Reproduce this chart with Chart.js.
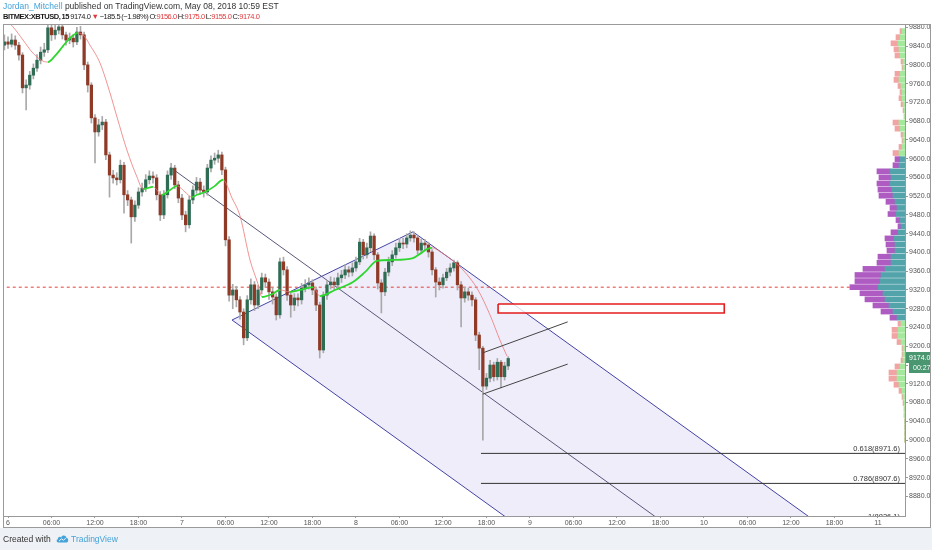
<!DOCTYPE html>
<html>
<head>
<meta charset="utf-8">
<script src="https://cdn.jsdelivr.net/npm/chart.js@4.4.1/dist/chart.umd.min.js"></script>
<style>
html, body { margin: 0; padding: 0; background: #eef1f5; }
#wrap { position: relative; width: 932px; height: 550px; overflow: hidden; }
#sheet { position: absolute; left: 0; top: 0; width: 932px; height: 528px; background: #fff; }
canvas { position: absolute; left: 0; top: 0; }
.txt { position: absolute; left: 3px; white-space: nowrap; font-family: "Liberation Sans", Arial, sans-serif; color: #333; }
#h1 { top: 1px; font-size: 8.5px; }
#h2 { top: 12px; font-size: 7.5px; letter-spacing: -0.45px; word-spacing: -0.5px; color: #1a1a1a; }
#foot { top: 534px; font-size: 8.5px; color: #333; }
.red { color: #e0393c; }
.blue { color: #45a3d9; }
</style>
</head>
<body>
<div id="wrap">
  <div id="sheet"></div>
  <canvas id="chart" width="932" height="550"></canvas>
  <div class="txt" id="h1"><span class="blue">Jordan_Mitchell</span> published on TradingView.com, May 08, 2018 10:59 EST</div>
  <div class="txt" id="h2"><b>BITMEX:XBTUSD, 15</b> 9174.0 <span class="red">▼</span> −185.5 (−1.98%) O:<span class="red">9156.0</span> H:<span class="red">9175.0</span> L:<span class="red">9155.0</span> C:<span class="red">9174.0</span></div>
  <div class="txt" id="foot">Created with <svg width="13" height="9" viewBox="0 0 13 9" style="vertical-align:-1px;margin:0 2px 0 3px"><path d="M2.5 8.5 C0.5 8.5 0 6 1.8 5.3 C1.6 3 4 2.2 5.2 3.4 C6 0.6 10 0.8 10.4 3.8 C12.6 4 13 8.5 10.5 8.5 Z" fill="#45a3d9"/><path d="M3 7 L5.5 4.8 L7.5 6.3 L10 3.8" stroke="#fff" stroke-width="0.9" fill="none"/></svg><span class="blue">TradingView</span></div>
</div>
<script>
// 30 min bars, hours counted from May 6 00:00
const firstDay = 6;
const startHour = -0.5;
const barHours = 0.5;

const opens = [9842,9849,9844,9853,9842,9821,9751,9757,9778,9793,
  9810,9827,9832,9879,9864,9874,9881,9864,9853,9857,
  9849,9870,9864,9800,9757,9687,9657,9672,9678,9608,
  9565,9559,9555,9586,9523,9512,9476,9501,9529,9537,
  9555,9563,9559,9523,9480,9523,9565,9580,9544,9516,
  9480,9459,9512,9533,9550,9533,9529,9580,9597,9601,
  9608,9576,9427,9309,9320,9299,9273,9218,9299,9331,
  9288,9320,9346,9337,9316,9305,9267,9380,9363,9309,
  9288,9303,9299,9324,9331,9335,9320,9288,9192,9309,
  9331,9337,9331,9346,9352,9363,9358,9367,9380,9422,
  9395,9410,9435,9395,9335,9316,9358,9380,9395,9410,
  9420,9418,9431,9437,9431,9405,9420,9416,9401,9363,
  9337,9331,9346,9358,9367,9378,9331,9303,9316,9309,
  9299,9224,9196,9115,9132,9160,9135,9166,9135,9158];
const highs = [9864,9860,9866,9862,9848,9826,9768,9786,9802,9822,
  9838,9846,9896,9890,9888,9896,9890,9870,9868,9864,
  9880,9882,9870,9806,9762,9694,9684,9690,9684,9614,
  9575,9570,9597,9592,9532,9518,9510,9538,9548,9566,
  9574,9572,9566,9530,9532,9574,9590,9586,9552,9524,
  9488,9520,9542,9560,9558,9542,9588,9606,9612,9618,
  9614,9582,9434,9332,9328,9306,9280,9308,9344,9338,
  9330,9356,9354,9344,9324,9312,9388,9390,9370,9316,
  9312,9312,9334,9342,9346,9342,9326,9294,9316,9340,
  9348,9346,9356,9362,9374,9370,9378,9390,9430,9428,
  9420,9444,9440,9400,9342,9366,9390,9404,9420,9430,
  9430,9440,9446,9444,9436,9428,9428,9422,9406,9368,
  9346,9354,9366,9376,9384,9382,9338,9326,9324,9316,
  9304,9230,9200,9142,9170,9166,9174,9170,9166,9178];
const lows = [9832,9835,9838,9833,9810,9740,9704,9748,9770,9786,
  9802,9818,9826,9852,9855,9866,9855,9842,9845,9838,
  9843,9855,9790,9742,9676,9591,9648,9662,9598,9518,
  9548,9544,9548,9484,9500,9420,9466,9494,9520,9530,
  9546,9548,9512,9468,9472,9516,9556,9536,9506,9470,
  9444,9452,9504,9526,9524,9518,9522,9572,9588,9592,
  9566,9414,9296,9280,9284,9258,9203,9212,9290,9276,
  9280,9312,9326,9300,9290,9256,9260,9352,9298,9262,
  9276,9286,9290,9316,9322,9310,9276,9175,9186,9300,
  9322,9320,9324,9336,9344,9348,9350,9360,9374,9386,
  9388,9402,9384,9322,9271,9308,9350,9372,9388,9402,
  9408,9410,9424,9422,9396,9398,9406,9390,9352,9305,
  9320,9324,9340,9350,9360,9320,9241,9294,9298,9286,
  9212,9150,9000,9108,9124,9126,9128,9111,9128,9150];
const closes = [9849,9844,9853,9842,9821,9751,9757,9778,9793,9810,
  9827,9832,9879,9864,9874,9881,9864,9853,9857,9849,
  9870,9864,9800,9757,9687,9657,9672,9678,9608,9565,
  9559,9555,9586,9523,9512,9476,9501,9529,9537,9555,
  9563,9559,9523,9480,9523,9565,9580,9544,9516,9480,
  9459,9512,9533,9550,9533,9529,9580,9597,9601,9608,
  9576,9427,9309,9320,9299,9273,9218,9299,9331,9288,
  9320,9346,9337,9316,9305,9267,9380,9363,9309,9288,
  9303,9299,9324,9331,9335,9320,9288,9192,9309,9331,
  9337,9331,9346,9352,9363,9358,9367,9380,9422,9395,
  9410,9435,9395,9335,9316,9358,9380,9395,9410,9420,
  9418,9431,9437,9431,9405,9420,9416,9401,9363,9337,
  9331,9346,9358,9367,9378,9331,9303,9316,9309,9299,
  9224,9196,9115,9132,9160,9135,9166,9135,9158,9174];

// moving average
const maHours = [-0.69,0.69,2.07,3.45,4.83,5.52,6.48,7.59,8.55,9.66,10.48,11.31,12.69,14.07,15.03,
  16.41,17.79,18.62,20.0,21.24,22.34,23.31,24.41,25.38,26.07,27.17,28.55,29.66,30.9,32.0,
  33.38,34.48,35.03,36.41,37.52,38.9,40.28,42.07,43.03,45.1,47.59,49.24,50.9,53.1,55.86,
  56.83,57.79,58.48,59.86,61.24,63.03,64.83,66.48,67.86,68.83];
const maValues = [9900,9881,9853,9825,9808,9806,9819,9840,9857,9868,9862,9842,9804,9740,9689,
  9618,9561,9535,9540,9523,9533,9542,9529,9518,9523,9529,9542,9555,9516,9478,
  9384,9333,9305,9311,9320,9316,9320,9326,9307,9320,9337,9358,9382,9384,9388,
  9397,9407,9410,9399,9384,9358,9320,9267,9213,9179];

// volume profile rows (row price, up volume, down volume)
const vpPrices = [9872,9859,9846,9833,9820,9807,9794,9781,9768,9755,
  9742,9729,9716,9703,9690,9677,9664,9651,9638,9625,
  9612,9599,9586,9573,9560,9547,9534,9521,9508,9495,
  9482,9469,9456,9443,9430,9417,9404,9391,9378,9365,
  9352,9339,9326,9313,9300,9287,9274,9261,9248,9235,
  9222,9209,9196,9183,9170,9157,9144,9131,9118,9105,
  9092,9079,9066,9053,9040,9027,9014,9001];
const vpUp = [0.3,0.5,0.7,0.6,0.5,0.2,0.2,0.5,0.6,0.4,
  0.3,0.3,0.2,0.1,0.05,0.6,0.5,0.2,0.2,0.3,
  0.6,0.5,0.6,1.5,1.4,1.5,1.3,1.2,1.0,0.8,
  0.9,0.5,0.4,0.7,1.1,1.0,1.0,1.4,1.4,2.0,
  2.4,2.5,2.7,2.2,2.0,1.6,1.2,0.8,0.4,0.7,
  0.7,0.4,0.2,0.2,0.2,0.5,0.8,0.8,0.6,0.3,
  0.2,0.1,0.05,0.05,0.03,0.03,0.03,0.03];
const vpDown = [0.2,0.4,0.7,0.5,0.5,0.2,0.1,0.5,0.5,0.3,
  0.2,0.3,0.2,0.1,0.05,0.6,0.5,0.2,0.1,0.3,
  0.6,0.5,0.6,1.3,1.2,1.3,1.4,1.4,0.9,0.7,
  0.8,0.4,0.3,0.7,0.9,0.9,0.8,1.3,1.4,2.2,
  2.6,2.5,2.8,2.3,2.0,1.6,1.2,0.7,0.3,0.6,
  0.6,0.4,0.1,0.1,0.2,0.5,0.8,0.8,0.5,0.3,
  0.1,0.1,0.05,0.05,0.03,0.03,0.03,0.03];
const valueArea = [9261, 9599];
const pocPrice = 9326;

// drawings
const forkUpperHours = [30.9, 55.86, 125], forkUpperPrices = [9256, 9444, 8675];
const forkLowerHours = [30.9, 125], forkLowerPrices = [9256, 8209];
const forkMedianHours = [22.34, 125], forkMedianPrices = [9582, 8439];
const chanHours = [65.5, 77.2], chanTop = [9186, 9252], chanBottom = [9098, 9162];
const boxHours = [67.6, 98.8], boxPrices = [9271, 9290];
const fibLevels = ['0.618', '0.786', '1'], fibPrices = [8971.6, 8907.6, 8826.1], fibStart = 65.24;
const lastPrice = 9174.0, countdown = '00:27';

const upColor = '#2e6c54', downColor = '#8e3a27';
const pts = (xs, ys) => xs.map((x, i) => ({x: x, y: ys[i]}));

const times = opens.map((_, i) => startHour + i * barHours);
const wickData = times.map((t, i) => ({x: t, y: [lows[i], highs[i]]}));
const bodyData = times.map((t, i) => ({x: t, y: [opens[i], closes[i]]}));
const bodyColors = closes.map((c, i) => c >= opens[i] ? upColor : downColor);

const inVA = p => p >= valueArea[0] && p <= valueArea[1];
const vpUpData = vpPrices.map((p, i) => ({y: p, x: [0, vpUp[i]]}));
const vpDownData = vpPrices.map((p, i) => ({y: p, x: [vpUp[i], vpUp[i] + vpDown[i]]}));
const vpUpColors = vpPrices.map(p => inVA(p) ? '#52a3aa' : '#a3e89b');
const vpDownColors = vpPrices.map(p => inVA(p) ? '#ae5bc2' : '#f2a3a3');

function timeLabel(v) {
  const hod = ((v % 24) + 24) % 24;
  return hod === 0 ? String(firstDay + v / 24) : String(hod).padStart(2, '0') + ':00';
}

const flat = (p, from) => [{x: from, y: p}, {x: 130, y: p}];
const lineDs = (label, data, color, order, extra) => Object.assign({
  type: 'line', label: label, data: data, borderColor: color, borderWidth: 1,
  pointRadius: 0, fill: false, order: order
}, extra || {});

const overlay = {
  id: 'overlay',
  afterDatasetsDraw(chart) {
    const {ctx, chartArea: a, scales: {y}} = chart;
    ctx.save();
    ctx.beginPath();
    ctx.rect(a.left, a.top, a.right - a.left, a.bottom - a.top);
    ctx.clip();
    ctx.font = '7.5px "Liberation Sans"';
    ctx.fillStyle = '#333';
    ctx.textAlign = 'right';
    ctx.textBaseline = 'bottom';
    fibLevels.forEach((lv, i) => {
      ctx.fillText(lv + '(' + fibPrices[i].toFixed(1) + ')', a.right - 5, y.getPixelForValue(fibPrices[i]) - 1);
    });
    ctx.restore();
  },
  afterDraw(chart) {
    const {ctx, chartArea: a, scales: {y}} = chart;
    ctx.save();
    // outer frame
    ctx.strokeStyle = '#9a9a9a';
    ctx.lineWidth = 1;
    ctx.strokeRect(3.5, 24.5, 927, 503);
    // last price label and bar countdown
    const py = Math.round(y.getPixelForValue(lastPrice));
    ctx.fillStyle = '#4a9671';
    ctx.fillRect(a.right + 1, py - 6, 24, 11);
    ctx.fillRect(a.right + 4, py + 5, 21, 10);
    ctx.fillStyle = '#fff';
    ctx.font = '7px "Liberation Sans"';
    ctx.textAlign = 'left';
    ctx.textBaseline = 'middle';
    ctx.fillText(lastPrice.toFixed(1), a.right + 4, py);
    ctx.fillText(countdown, a.right + 8, py + 10);
    ctx.restore();
  }
};

Chart.defaults.font.family = '"Liberation Sans", Arial, sans-serif';

new Chart(document.getElementById('chart'), {
  type: 'bar',
  data: {
    datasets: [
      lineDs('fork upper', pts(forkUpperHours, forkUpperPrices), '#4444a6', 20,
        {fill: '+1', backgroundColor: 'rgba(105,95,205,0.11)'}),
      lineDs('fork lower', pts(forkLowerHours, forkLowerPrices), '#4444a6', 19),
      lineDs('fork median', pts(forkMedianHours, forkMedianPrices), '#58587a', 18),
      lineDs('poc', flat(pocPrice, -1), '#e0403c', 17, {borderDash: [3, 3]}),
      lineDs('fib 0.618', flat(fibPrices[0], fibStart), '#333', 16),
      lineDs('fib 0.786', flat(fibPrices[1], fibStart), '#333', 16),
      lineDs('fib 1', flat(fibPrices[2], fibStart), '#333', 16),
      {type: 'bar', label: 'vp up', indexAxis: 'y', xAxisID: 'xv', yAxisID: 'y', data: vpUpData,
        backgroundColor: vpUpColors, barThickness: 5, grouped: false, order: 15},
      {type: 'bar', label: 'vp down', indexAxis: 'y', xAxisID: 'xv', yAxisID: 'y', data: vpDownData,
        backgroundColor: vpDownColors, barThickness: 5, grouped: false, order: 15},
      {type: 'bar', label: 'wicks', data: wickData, backgroundColor: '#a9a9a9',
        barThickness: 1, grouped: false, order: 12},
      {type: 'bar', label: 'bodies', data: bodyData, backgroundColor: bodyColors,
        barThickness: 2.6, minBarLength: 1, grouped: false, order: 11},
      lineDs('ma', pts(maHours, maValues), '#f08a8a', 10, {
        cubicInterpolationMode: 'monotone',
        segment: {
          borderColor: c => c.p1.parsed.y >= c.p0.parsed.y ? '#2fd62f' : 'rgba(238,120,120,0.8)',
          borderWidth: c => c.p1.parsed.y >= c.p0.parsed.y ? 1.8 : 1
        }
      }),
      lineDs('box fill', [{x: boxHours[0], y: boxPrices[1]}, {x: boxHours[1], y: boxPrices[1]}], 'rgba(0,0,0,0)', 7,
        {borderWidth: 0, fill: {value: boxPrices[0]}, backgroundColor: 'rgba(255,255,255,0.8)'}),
      lineDs('box', [{x: boxHours[0], y: boxPrices[1]}, {x: boxHours[1], y: boxPrices[1]},
        {x: boxHours[1], y: boxPrices[0]}, {x: boxHours[0], y: boxPrices[0]}, {x: boxHours[0], y: boxPrices[1]}],
        '#e31c1c', 5, {borderWidth: 1.6}),
      lineDs('chan top', pts(chanHours, chanTop), '#444', 5),
      lineDs('chan bottom', pts(chanHours, chanBottom), '#444', 5)
    ]
  },
  options: {
    responsive: false,
    animation: false,
    events: [],
    layout: {padding: {left: 4, top: 25, right: 2, bottom: 23}},
    plugins: {legend: {display: false}, tooltip: {enabled: false}},
    scales: {
      x: {
        type: 'linear', min: -0.552, max: 123.73, offset: false,
        grid: {display: true, drawOnChartArea: false, tickLength: 2, color: '#999', offset: false},
        border: {display: true, color: '#999'},
        ticks: {stepSize: 6, includeBounds: false, autoSkip: false, maxRotation: 0, padding: 1,
          color: '#555', font: {size: 7}, callback: v => timeLabel(v)},
        afterFit: s => { s.height = 11; }
      },
      y: {
        type: 'linear', position: 'right', min: 8838.1, max: 9885, offset: false,
        grid: {display: true, drawOnChartArea: false, tickLength: 3, color: '#999', offset: false},
        border: {display: true, color: '#999'},
        ticks: {stepSize: 40, includeBounds: false, padding: 1, color: '#555', font: {size: 7},
          callback: v => v.toFixed(1)},
        afterBuildTicks: s => { s.ticks = s.ticks.filter(t => t.value > s.min + 10); },
        afterFit: s => { s.width = 25; }
      },
      xv: {type: 'linear', axis: 'x', display: false, reverse: true, min: 0, max: 90, offset: false}
    }
  },
  plugins: [overlay]
});
</script>
</body>
</html>
